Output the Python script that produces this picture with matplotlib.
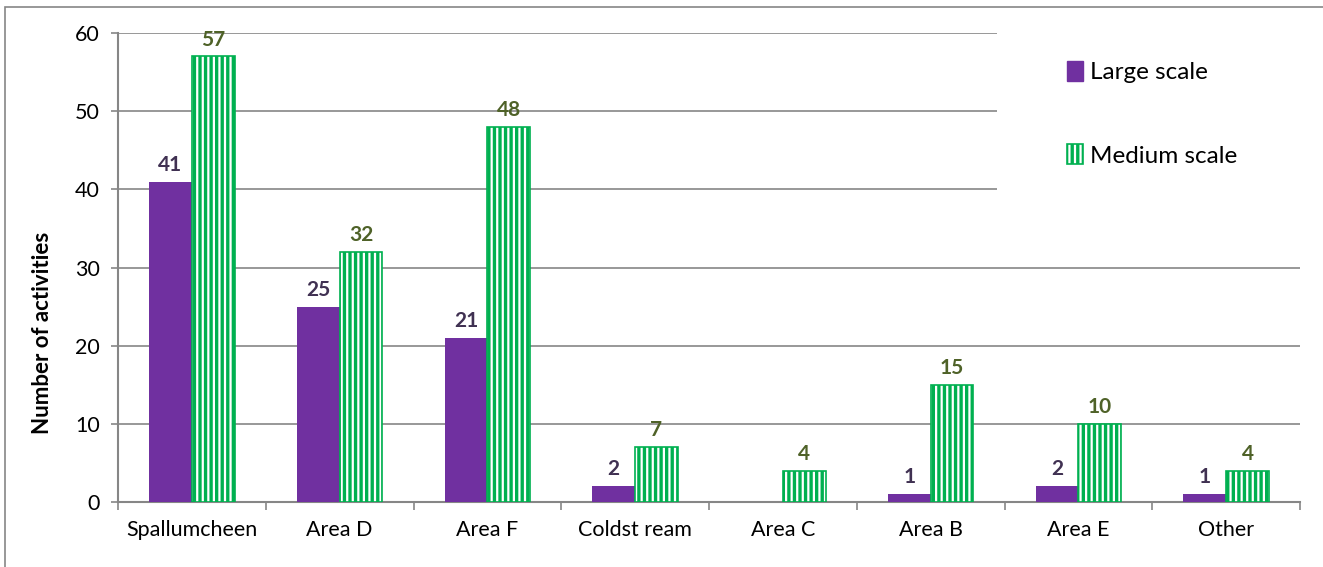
import matplotlib.pyplot as plt
from matplotlib.patches import Rectangle, Patch
from matplotlib.legend_handler import HandlerTuple
import numpy as np

# datos del grafico
areas = ['Spallumcheen', 'Area D', 'Area F', 'Coldst ream', 'Area C', 'Area B', 'Area E', 'Other']
large = [41, 25, 21, 2, 0, 1, 2, 1]
medium = [57, 32, 48, 7, 4, 15, 10, 4]
yticks = [0, 10, 20, 30, 40, 50, 60]

purple = '#7030A0'
green = '#00B050'
gris = '#868686'

plt.rcParams['font.family'] = ['Lato', 'DejaVu Sans']
plt.rcParams['hatch.linewidth'] = 1.6

fig = plt.figure(figsize=(13.23, 5.67), dpi=100)
ax = fig.add_axes([118/1323, 1 - 502/567, 1182/1323, 469/567])

# marco exterior del grafico (recortado por el borde)
fig.patches.append(Rectangle((5/1323, -0.1), 1.2, 1 - 7/567 + 0.1, transform=fig.transFigure,
                             fill=False, edgecolor=gris, linewidth=1.2))

x = np.arange(len(areas))
w = 0.29
ax.bar(x - w/2, large, w, color=purple, linewidth=0, zorder=3)
ax.bar(x + w/2, medium, w, color=green, edgecolor='white', hatch='|||', linewidth=0, zorder=3)
ax.bar(x + w/2, medium, w, fill=False, edgecolor=green, linewidth=1.2, zorder=4)

for i in range(len(areas)):
    if large[i] > 0:
        ax.annotate(str(large[i]), (x[i] - w/2, large[i]), xytext=(0, 5), textcoords='offset points',
                    ha='center', va='bottom', fontsize=15, fontweight='bold', color='#403152')
    ax.annotate(str(medium[i]), (x[i] + w/2, medium[i]), xytext=(0, 5), textcoords='offset points',
                ha='center', va='bottom', fontsize=15, fontweight='bold', color='#4F6228')

ax.set_xlim(-0.5, len(areas) - 0.5)
ax.set_ylim(0, 60)
ax.set_yticks(yticks)
ax.tick_params(axis='y', labelsize=15.5, length=5, color=gris, width=1.2, pad=8)
ax.set_xticks(x)
ax.set_xticklabels(areas)
ax.tick_params(axis='x', length=0, labelsize=15.5, pad=13)
ax.set_xticks(np.arange(-0.5, len(areas)), minor=True)
ax.tick_params(axis='x', which='minor', length=6, color=gris, width=1.2)
ax.yaxis.grid(True, color=gris, linewidth=1.2, zorder=0)
ax.set_axisbelow(True)
for s in ['top', 'right']:
    ax.spines[s].set_visible(False)
for s in ['left', 'bottom']:
    ax.spines[s].set_color(gris)
    ax.spines[s].set_linewidth(1.5)
ax.set_ylabel('Number of activities', fontsize=16, fontweight='bold')
ax.yaxis.set_label_coords(-0.055, 0.36)

# caja blanca de la leyenda
ax.add_patch(Rectangle((997/1323, 1 - 205/567), 303/1323, 190/567, transform=fig.transFigure,
                       facecolor='white', edgecolor='none', zorder=2, clip_on=False))

h_large = Patch(facecolor=purple, edgecolor=purple)
h_med = (Patch(facecolor=green, edgecolor='white', hatch='|||', linewidth=0),
         Patch(fill=False, edgecolor=green, linewidth=1.2))
leg = ax.legend([h_large, h_med], ['Large scale', 'Medium scale'],
                handler_map={tuple: HandlerTuple(ndivide=1, pad=0)},
                loc='upper left', bbox_to_anchor=(1067/1323, 1 - 61/567), bbox_transform=fig.transFigure,
                fontsize=17.5, frameon=False, labelspacing=2.5, handlelength=0.65, handleheight=0.9,
                handletextpad=0.3, borderpad=0, borderaxespad=0)
leg.set_zorder(10)

fig.savefig('out.png', dpi=100)
